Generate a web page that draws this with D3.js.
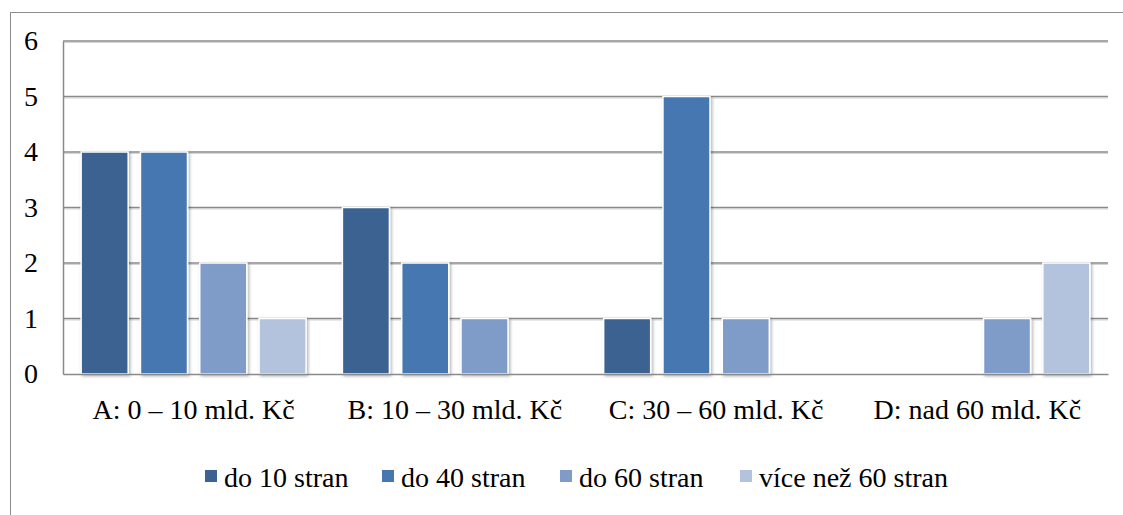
<!DOCTYPE html>
<html><head><meta charset="utf-8">
<script src="https://cdn.jsdelivr.net/npm/d3@7/dist/d3.min.js"></script>
</head><body>
<svg id="chart" width="1123" height="515" font-family="Liberation Serif"></svg>
<script>
const categories = ["A: 0 – 10 mld. Kč", "B: 10 – 30 mld. Kč", "C: 30 – 60 mld. Kč", "D: nad 60 mld. Kč"];
const seriesNames = ["do 10 stran", "do 40 stran", "do 60 stran", "více než 60 stran"];
const series1 = [4, 3, 1, 0];
const series2 = [4, 2, 5, 0];
const series3 = [2, 1, 1, 1];
const series4 = [1, 0, 0, 2];
const yTicks = [0, 1, 2, 3, 4, 5, 6];
const colors = ["#3b6291", "#4777b0", "#7f9cc9", "#b3c3de"];

d3.select("body").style("margin", "0").style("background", "#fff");
d3.select("#chart").style("display", "block");

const allSeries = [series1, series2, series3, series4];
const svg = d3.select("#chart");

const defs = svg.append("defs");
const f = defs.append("filter").attr("id","sh").attr("x","-20%").attr("y","-20%").attr("width","150%").attr("height","150%");
f.append("feDropShadow").attr("dx",1.5).attr("dy",1.5).attr("stdDeviation",1.5).attr("flood-color","#000").attr("flood-opacity",0.3);

svg.append("rect").attr("x",10.5).attr("y",12.5).attr("width",1120).attr("height",520)
  .attr("fill","none").attr("stroke","#8c8c8c").attr("stroke-width",1);

const pLeft = 63, pRight = 1108, pTop = 41, pBottom = 374;
const x0 = d3.scaleBand().domain(categories).range([pLeft, pRight]).padding(0);
const x1 = d3.scaleBand().domain(d3.range(4)).range([0, x0.bandwidth()]).paddingInner(0.207).paddingOuter(0.306);
const y = d3.scaleLinear().domain([0, 6]).range([pBottom, pTop]);

// gridlines
const grid = svg.append("g");
yTicks.filter(t => t > 0).forEach(t => {
  grid.append("line").attr("x1", pLeft).attr("x2", pRight).attr("y1", y(t)+1.5).attr("y2", y(t)+1.5)
    .attr("stroke","#d4d4d4").attr("stroke-width",1.2);
  grid.append("line").attr("x1", pLeft).attr("x2", pRight).attr("y1", y(t)).attr("y2", y(t))
    .attr("stroke","#8a8a8a").attr("stroke-width",1.5);
});

// y axis (line only; labels below)
const yAxis = d3.axisLeft(y).tickValues(yTicks).tickSize(0).tickFormat("");
const gy = svg.append("g").attr("transform", `translate(${pLeft},0)`).call(yAxis);
gy.attr("font-family", "Liberation Serif").attr("font-size", 28);
gy.selectAll(".tick").remove();
gy.select(".domain").attr("stroke","#8a8a8a").attr("stroke-width",1.5);

// bars
categories.forEach((c, ci) => {
  allSeries.forEach((s, si) => {
    const v = s[ci];
    if (v <= 0) return;
    svg.append("rect")
      .attr("x", x0(c) + x1(si)).attr("y", y(v))
      .attr("width", x1.bandwidth()).attr("height", y(0) - y(v))
      .attr("fill", colors[si]).attr("stroke","#fff").attr("stroke-width",1.5)
      .attr("filter","url(#sh)");
  });
});

// x axis (line only)
const xAxis = d3.axisBottom(x0).tickSize(0).tickFormat("");
const gx = svg.append("g").attr("transform", `translate(0,${pBottom})`).call(xAxis);
gx.attr("font-family", "Liberation Serif").attr("font-size", 28);
gx.selectAll(".tick").remove();
gx.select(".domain").attr("stroke","#8a8a8a").attr("stroke-width",1.5);

function label(x, yy, txt, anchor) {
  svg.append("text")
    .attr("x", x).attr("y", yy)
    .attr("text-anchor", anchor)
    .style("font-family", '"Liberation Serif"').style("font-size", "28px")
    .attr("fill", "#000").text(txt);
}

yTicks.forEach(t => label(38, y(t) + 9, String(t), "end"));
categories.forEach(c => label(x0(c) + x0.bandwidth()/2, 419, c, "middle"));

// legend
const legendX = [205, 382, 560, 740];
seriesNames.forEach((n, i) => {
  svg.append("rect").attr("x",legendX[i]).attr("y",470).attr("width",12).attr("height",12).attr("fill",colors[i]);
  label(legendX[i] + 19, 487, n, "start");
});
</script>
</body></html>
